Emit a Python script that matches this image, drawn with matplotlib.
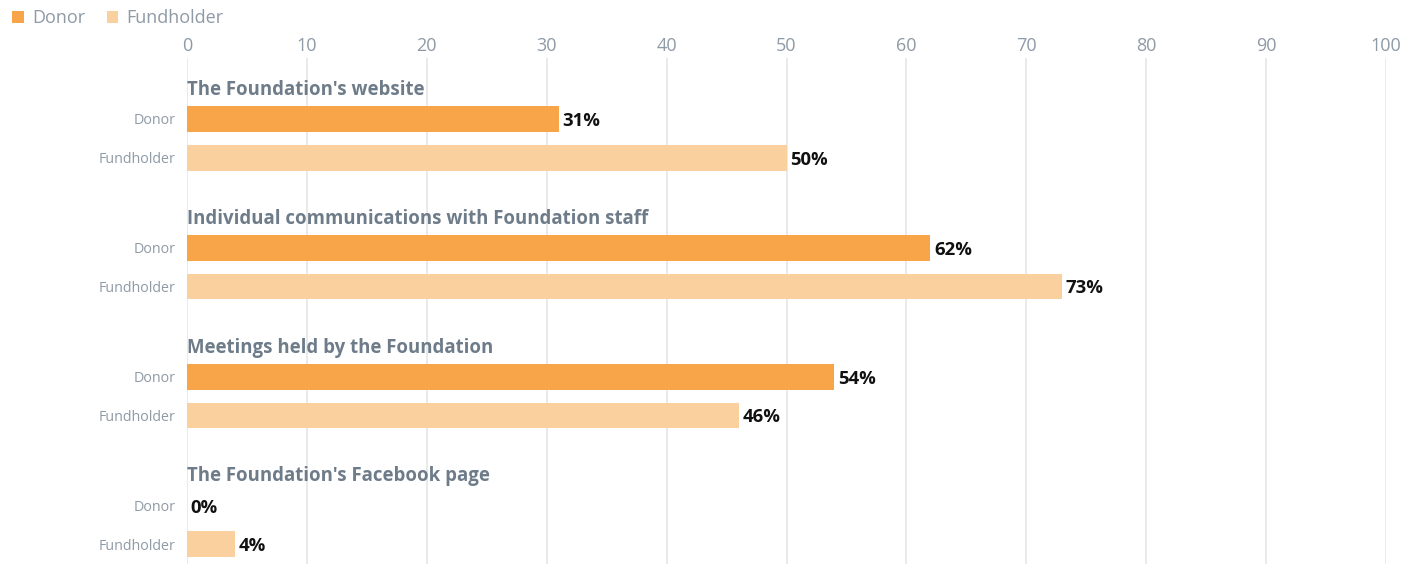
import matplotlib
matplotlib.use("Agg")
import matplotlib.pyplot as plt
from matplotlib.patches import Patch

# Survey data: share of respondents using each information source
groups = [
    "The Foundation's website",
    "Individual communications with Foundation staff",
    "Meetings held by the Foundation",
    "The Foundation's Facebook page",
]
series_names = ["Donor", "Fundholder"]
donor = [31, 62, 54, 0]
fundholder = [50, 73, 46, 4]
xticks = [0, 10, 20, 30, 40, 50, 60, 70, 80, 90, 100]

colors = {"Donor": "#F7A548", "Fundholder": "#FAD09F"}
grid_color = "#E6E6E6"
tick_color = "#8E9AA6"
title_color = "#6E7C8A"

plt.rcParams["font.family"] = ["Open Sans", "DejaVu Sans"]

W, H, DPI = 1414, 564, 100
fig = plt.figure(figsize=(W / DPI, H / DPI), dpi=DPI)
ax = fig.add_axes([187 / W, 0, (1386 - 187) / W, (564 - 58) / H])

group_pitch = 3.34
bar_h = 0.67
title_off = 0.76

ytick_pos, ytick_lab = [], []
for g, name in enumerate(groups):
    base = g * group_pitch
    for k, (sname, vals) in enumerate(zip(series_names, [donor, fundholder])):
        y = base + k
        v = vals[g]
        ax.barh(y, v, height=bar_h, color=colors[sname], zorder=3)
        ax.text(v + 0.3, y + 0.05, f"{v}%", va="center", ha="left",
                fontsize=13.3, fontweight="bold", color="#111111", zorder=4)
        ytick_pos.append(y)
        ytick_lab.append(sname)
    ax.text(0, base - title_off, name, va="center", ha="left",
            fontsize=13.4, fontweight="bold", color=title_color, zorder=4)

ax.set_xlim(0, 100)
ax.set_ylim((564 - 119) / 38.6, (58 - 119) / 38.6)
ax.set_xticks(xticks)
ax.xaxis.tick_top()
ax.tick_params(axis="x", length=0, pad=2.5, labelsize=13, labelcolor=tick_color)
ax.set_yticks(ytick_pos)
ax.set_yticklabels(ytick_lab)
ax.tick_params(axis="y", length=0, pad=8.5, labelsize=10.3, labelcolor=tick_color)
ax.grid(axis="x", color=grid_color, linewidth=1.2, zorder=0)
for s in ax.spines.values():
    s.set_visible(False)

handles = [Patch(facecolor=colors[n], edgecolor="none", label=n) for n in series_names]
fig.legend(handles=handles, loc="upper left", bbox_to_anchor=(-0.003, 1.012),
           ncol=2, frameon=False, handlelength=0.65, handleheight=0.65,
           handletextpad=0.45, columnspacing=1.2, fontsize=13,
           labelcolor=tick_color)

fig.savefig("out.png", dpi=DPI)
